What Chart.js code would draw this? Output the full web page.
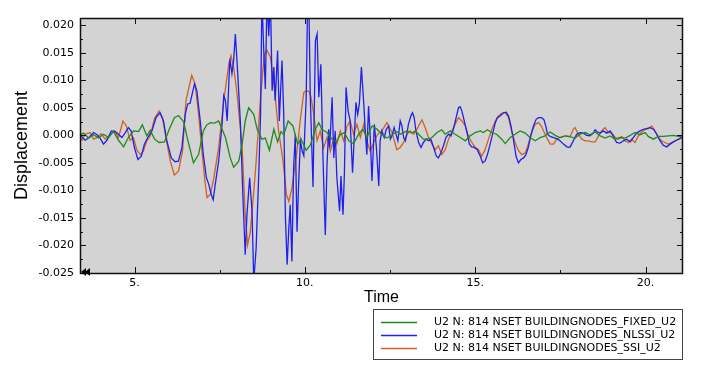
<!DOCTYPE html>
<html>
<head>
<meta charset="utf-8">
<script src="https://cdn.jsdelivr.net/npm/chart.js@4/dist/chart.umd.min.js"></script>
<style>
html, body { margin: 0; padding: 0; background: #fff; }
</style>
</head>
<body>
<canvas id="c" width="708" height="371"></canvas>
<script>
// Valores (desplazamiento en unidades de 1e-3)
const fixedTime = [3.36,3.50,3.65,3.80,3.94,4.09,4.24,4.38,4.53,4.68,4.82,4.97,5.12,5.23,5.36,5.46,5.59,5.72,5.88,6.02,6.17,6.29,6.44,6.58,6.73,6.88,7.02,7.12,7.23,7.35,7.47,7.67,7.81,7.91,8.06,8.16,8.25,8.35,8.50,8.60,8.74,8.84,8.96,9.09,9.20,9.30,9.38,9.51,9.65,9.79,9.89,10.04,10.16,10.31,10.41,10.50,10.65,10.80,10.92,11.04,11.16,11.29,11.43,11.58,11.70,11.82,11.97,12.12,12.26,12.41,12.56,12.70,12.80,13.00,13.14,13.24,13.34,13.48,13.58,13.73,13.88,14.02,14.12,14.27,14.41,14.56,14.71,14.85,15.00,15.15,15.24,15.36,15.49,15.63,15.78,15.88,16.03,16.17,16.32,16.47,16.61,16.76,16.91,17.05,17.20,17.35,17.49,17.64,17.79,17.93,18.08,18.23,18.37,18.52,18.67,18.81,18.96,19.11,19.25,19.40,19.55,19.69,19.84,19.99,20.08,20.23,20.38,20.52,20.67,20.82,20.96,21.11];
const fixedU2 = [-0.1,0.4,-0.5,0.1,-0.5,0.2,-0.4,0.7,-0.9,-2.1,-0.4,0.8,0.7,1.9,-0.1,0.9,-0.7,-1.3,-1.2,1.1,3.2,3.6,2.5,-1.3,-5.0,-3.5,0.8,1.9,2.3,2.2,2.6,-0.4,-4.1,-5.8,-4.7,-1.6,2.6,5.0,3.8,1.1,-0.7,-0.5,-2.7,1.1,-1.2,0.7,0.1,2.6,1.7,-1.6,-0.7,-2.7,-1.8,1.1,2.3,1.1,0.5,-0.7,-1.2,0.1,0.5,-1.0,-1.5,0.2,1.1,-0.4,1.7,1.1,0.2,-0.5,0.1,0.7,0.2,0.8,0.4,0.8,0.2,-0.7,-0.7,-0.4,0.5,1.0,0.2,0.8,0.2,-0.4,-1.0,-0.1,0.5,0.8,0.5,1.0,0.5,0.2,-0.7,-1.5,-0.4,0.2,0.8,0.4,-0.4,-1.0,-0.4,-0.1,0.6,0.0,-0.4,-0.1,-0.3,-0.5,0.2,0.5,0.1,0.6,-0.1,-0.5,-0.1,-0.7,-0.4,-0.5,0.0,0.5,0.1,0.5,-0.2,-0.7,-0.2,-0.2,-0.1,0.0,-0.2,-0.3];

const nlssiTime = [3.36,3.46,3.55,3.65,3.80,3.90,3.99,4.09,4.19,4.32,4.43,4.53,4.63,4.73,4.82,4.90,5.00,5.10,5.20,5.29,5.39,5.51,5.63,5.75,5.85,5.95,6.08,6.19,6.29,6.39,6.49,6.56,6.63,6.76,6.83,6.93,7.02,7.11,7.18,7.25,7.31,7.37,7.47,7.57,7.62,7.67,7.72,7.80,7.86,7.91,7.96,8.03,8.11,8.18,8.25,8.30,8.38,8.45,8.50,8.57,8.65,8.70,8.74,8.79,8.84,8.89,8.94,8.99,9.04,9.09,9.13,9.20,9.25,9.28,9.33,9.38,9.43,9.48,9.53,9.57,9.62,9.67,9.72,9.77,9.82,9.87,9.92,9.97,10.04,10.08,10.12,10.16,10.24,10.31,10.36,10.41,10.47,10.53,10.60,10.65,10.70,10.73,10.80,10.85,10.89,10.94,11.02,11.06,11.12,11.16,11.21,11.27,11.33,11.40,11.45,11.50,11.55,11.60,11.66,11.73,11.77,11.82,11.87,11.92,11.97,12.04,12.10,12.17,12.21,12.26,12.33,12.39,12.46,12.51,12.56,12.62,12.73,12.80,12.85,12.90,12.95,13.00,13.04,13.11,13.16,13.21,13.26,13.34,13.41,13.48,13.56,13.63,13.70,13.78,13.86,13.92,13.99,14.07,14.14,14.22,14.29,14.36,14.44,14.51,14.56,14.61,14.68,14.76,14.83,14.90,14.97,15.05,15.15,15.22,15.29,15.36,15.44,15.52,15.59,15.65,15.73,15.83,15.91,15.98,16.05,16.12,16.20,16.27,16.34,16.42,16.49,16.56,16.63,16.71,16.79,16.86,16.95,17.02,17.08,17.12,17.20,17.30,17.39,17.49,17.59,17.69,17.74,17.79,17.88,17.98,18.08,18.18,18.27,18.37,18.47,18.52,18.59,18.67,18.76,18.86,18.96,19.06,19.15,19.25,19.35,19.45,19.55,19.64,19.74,19.84,19.94,20.03,20.13,20.23,20.33,20.43,20.52,20.62,20.72,20.82,20.91,21.01,21.13];
const nlssiU2 = [0.2,-0.3,-0.9,-0.5,0.5,0.1,-0.5,-1.6,-0.9,0.8,0.7,0.2,-0.4,0.5,1.4,0.8,-2.3,-4.4,-3.8,-1.6,-0.4,0.8,3.2,4.1,2.6,-1.0,-4.1,-4.8,-4.7,-2.3,3.8,5.7,5.8,9.3,8.1,2.6,-3.5,-7.7,-8.9,-10.7,-11.7,-8.9,-4.7,2.0,7.2,6.3,2.6,13.9,11.2,13.6,18.4,11.2,2.0,-10.8,-21.7,-14.4,-7.7,-13.8,-26.5,-20.5,-6.5,3.8,25.0,16.0,8.4,25.0,18.0,25.0,8.1,12.4,6.3,15.4,2.6,6.9,13.6,3.8,-15.0,-23.5,-16.8,-12.6,-22.9,-5.9,0.2,-17.5,-8.3,-1.0,-2.8,-3.7,6.9,24.0,23.0,6.9,-9.4,17.2,18.4,6.9,12.9,-3.5,-18.1,-5.3,1.1,-2.2,6.9,-4.1,0.8,-7.7,-13.8,-7.4,-14.4,-7.1,8.7,4.4,2.6,-6.8,-0.4,6.0,3.8,5.7,12.4,5.7,1.1,-3.5,5.3,-0.4,-8.3,2.0,-2.2,-9.2,-1.0,0.8,-0.4,1.1,1.7,-0.7,-0.1,1.4,-1.0,2.6,1.7,-0.4,-1.0,0.5,2.0,3.5,4.1,3.2,0.8,-1.3,-2.2,-1.3,-0.7,-1.0,-0.7,-2.2,-3.8,-4.1,-3.2,-1.9,-0.4,0.2,-0.1,1.1,3.2,5.0,5.2,4.4,2.6,0.5,-1.6,-2.1,-2.2,-2.5,-3.8,-5.0,-4.7,-3.5,-1.6,0.5,2.3,3.2,3.5,4.1,4.2,3.5,1.7,-0.7,-3.8,-5.0,-4.4,-4.1,-3.5,-2.2,-0.1,1.7,2.9,3.2,3.2,2.8,1.5,0.2,-0.2,-0.4,-0.6,-1.0,-1.6,-2.1,-2.2,-2.1,-1.0,0.2,0.5,0.4,0.0,-0.1,0.4,1.0,0.6,0.4,0.8,0.4,0.8,-0.2,-1.3,-1.4,-1.0,-0.7,-1.2,-0.4,0.4,0.8,1.1,1.2,1.4,1.1,0.2,-1.0,-1.8,-2.1,-1.6,-1.2,-0.9,-0.6,-0.2];

const ssiTime = [3.36,3.46,3.55,3.70,3.80,3.90,4.02,4.14,4.29,4.41,4.53,4.66,4.76,4.87,4.97,5.07,5.17,5.26,5.36,5.46,5.59,5.72,5.82,5.92,6.05,6.17,6.29,6.41,6.51,6.68,6.78,6.88,6.99,7.07,7.13,7.23,7.33,7.47,7.62,7.77,7.83,7.91,8.01,8.16,8.25,8.32,8.40,8.55,8.70,8.81,8.89,8.99,9.11,9.23,9.36,9.46,9.53,9.62,9.77,9.87,9.97,10.05,10.12,10.18,10.26,10.36,10.45,10.55,10.65,10.75,10.85,10.94,11.04,11.14,11.24,11.33,11.43,11.53,11.63,11.73,11.82,11.92,12.02,12.14,12.26,12.41,12.56,12.70,12.80,12.90,13.00,13.09,13.19,13.29,13.39,13.44,13.53,13.63,13.73,13.83,13.92,14.02,14.12,14.22,14.32,14.41,14.51,14.61,14.71,14.80,14.90,15.00,15.10,15.19,15.29,15.39,15.49,15.59,15.68,15.78,15.88,15.98,16.07,16.17,16.27,16.37,16.47,16.56,16.66,16.76,16.86,16.95,17.05,17.20,17.30,17.39,17.49,17.64,17.79,17.88,17.93,18.03,18.13,18.23,18.32,18.42,18.52,18.62,18.71,18.81,18.91,19.01,19.11,19.20,19.30,19.40,19.50,19.59,19.69,19.79,19.89,19.99,20.08,20.18,20.28,20.38,20.47,20.57,20.67,20.77,20.87,20.96,21.06,21.16];
const ssiU2 = [-0.1,-0.9,0.2,0.5,-0.7,-0.4,0.3,-0.7,0.1,0.8,-0.4,2.6,1.7,-0.9,-0.4,-2.7,-3.5,-2.9,-1.0,-0.1,3.1,4.4,3.2,-0.4,-4.7,-7.2,-6.5,-2.9,6.3,10.9,9.3,3.8,-3.5,-8.5,-11.3,-10.7,-7.7,-2.2,6.3,13.0,14.5,12.4,7.5,-2.2,-14.4,-19.9,-17.5,-6.5,6.9,14.7,15.4,14.2,8.1,0.8,-4.7,-10.8,-12.0,-9.6,-2.8,3.0,7.8,8.1,8.0,7.0,3.8,-1.0,0.8,-2.3,-0.4,-2.9,-0.4,-1.6,0.8,-1.0,1.7,2.6,0.2,2.0,-0.4,2.0,-1.0,-2.9,-1.3,0.2,0.8,2.3,0.5,-2.6,-2.2,-1.3,0.2,0.8,0.2,1.1,2.3,2.8,1.4,-0.4,-1.6,-2.6,-1.9,-3.5,-2.6,-0.7,0.8,2.0,3.2,2.6,1.7,-0.1,-1.3,-2.2,-2.6,-3.8,-2.6,-0.7,1.1,2.6,3.5,4.0,4.1,3.2,0.8,-1.3,-2.8,-3.5,-3.2,-1.6,0.5,2.0,2.3,1.6,0.2,-1.6,-1.6,-0.7,-0.4,-0.1,-0.2,1.1,1.4,0.2,-0.7,-1.0,-1.0,-1.2,-1.2,-0.1,0.8,1.4,0.5,0.4,-0.4,-0.7,-0.2,-1.0,-1.3,-0.7,-1.3,-0.1,0.6,1.1,1.2,1.7,0.8,-0.4,-1.0,-1.3,-1.6,-1.3,-1.0,-0.7,-0.4,-0.4];

const seriesLabels = [
    'U2 N: 814 NSET BUILDINGNODES_FIXED_U2',
    'U2 N: 814 NSET BUILDINGNODES_NLSSI_U2',
    'U2 N: 814 NSET BUILDINGNODES_SSI_U2'
];
const seriesColors = ['#1f8a1f', '#2020ec', '#d0621e'];

const xTickValues = [5, 10, 15, 20];
const xTickLabels = ['5.', '10.', '15.', '20.'];
const xMinorTicks = [7.5, 12.5, 17.5];
const yTickValues = [-0.025, -0.020, -0.015, -0.010, -0.005, 0, 0.005, 0.010, 0.015, 0.020];
const yTickLabels = ['-0.025', '-0.020', '-0.015', '-0.010', '-0.005', '0.000', '0.005', '0.010', '0.015', '0.020'];
const yMinorTicks = [-0.0225, -0.0175, -0.0125, -0.0075, -0.0025, 0.0025, 0.0075, 0.0125, 0.0175];

function toPoints(times, vals) {
    return times.map((t, i) => ({ x: t, y: vals[i] * 1e-3 }));
}

// Fondo gris del área de trazado
const plotBackground = {
    id: 'plotBackground',
    beforeDatasetsDraw(chart) {
        const { ctx, chartArea: a } = chart;
        ctx.save();
        ctx.fillStyle = '#d3d3d3';
        ctx.fillRect(a.left, a.top, a.right - a.left, a.bottom - a.top);
        ctx.restore();
    }
};

// Marco y marcas hacia dentro en los cuatro lados
const frameTicks = {
    id: 'frameTicks',
    afterDatasetsDraw(chart) {
        const { ctx, chartArea: a, scales: { x, y } } = chart;
        ctx.save();
        ctx.strokeStyle = '#111';
        ctx.lineWidth = 1;
        ctx.beginPath();
        const mark = (vals, len) => {
            vals.forEach(v => {
                const px = Math.round(x.getPixelForValue(v)) + 0.5;
                ctx.moveTo(px, a.bottom); ctx.lineTo(px, a.bottom - len);
                ctx.moveTo(px, a.top); ctx.lineTo(px, a.top + len);
            });
        };
        const markY = (vals, len) => {
            vals.forEach(v => {
                const py = Math.round(y.getPixelForValue(v)) + 0.5;
                ctx.moveTo(a.left, py); ctx.lineTo(a.left + len, py);
                ctx.moveTo(a.right, py); ctx.lineTo(a.right - len, py);
            });
        };
        mark(xTickValues, 6);
        mark(xMinorTicks, 3);
        markY(yTickValues, 6);
        markY(yMinorTicks, 3);
        ctx.stroke();
        ctx.lineWidth = 1.5;
        ctx.strokeRect(a.left + 0.5, a.top + 0.5, a.right - a.left - 1, a.bottom - a.top);
        // flechas dobles en la esquina inferior izquierda
        ctx.fillStyle = '#000';
        [a.left + 1, a.left + 5].forEach(px => {
            ctx.beginPath();
            ctx.moveTo(px, a.bottom - 1);
            ctx.lineTo(px + 5, a.bottom - 5);
            ctx.lineTo(px + 5, a.bottom + 3);
            ctx.closePath();
            ctx.fill();
        });
        ctx.restore();
    }
};

// Leyenda en recuadro, abajo a la derecha
const boxLegend = {
    id: 'boxLegend',
    afterDraw(chart) {
        const { ctx, chartArea: a } = chart;
        const right = a.right, left = a.right - 310;
        const top = chart.height - 62, bottom = chart.height - 11;
        ctx.save();
        ctx.fillStyle = '#fff';
        ctx.fillRect(left, top, right - left, bottom - top);
        ctx.strokeStyle = '#444';
        ctx.lineWidth = 1;
        ctx.strokeRect(left + 0.5, top + 0.5, right - left - 1, bottom - top - 1);
        ctx.font = '11px "DejaVu Sans"';
        ctx.textBaseline = 'middle';
        chart.data.datasets.forEach((ds, i) => {
            const yy = top + 13 + i * 13;
            ctx.strokeStyle = ds.borderColor;
            ctx.lineWidth = 1.5;
            ctx.beginPath();
            ctx.moveTo(left + 8, yy + 0.5);
            ctx.lineTo(left + 44, yy + 0.5);
            ctx.stroke();
            ctx.fillStyle = '#000';
            ctx.fillText(ds.label, left + 61, yy);
        });
        ctx.restore();
    }
};

const tickFont = { family: 'DejaVu Sans', size: 11 };

new Chart(document.getElementById('c'), {
    type: 'line',
    data: {
        datasets: [
            { label: seriesLabels[0], data: toPoints(fixedTime, fixedU2), borderColor: seriesColors[0] },
            { label: seriesLabels[1], data: toPoints(nlssiTime, nlssiU2), borderColor: seriesColors[1] },
            { label: seriesLabels[2], data: toPoints(ssiTime, ssiU2), borderColor: seriesColors[2] }
        ].map(ds => Object.assign(ds, { borderWidth: 1.3, pointRadius: 0, tension: 0, fill: false }))
    },
    options: {
        responsive: false,
        animation: false,
        events: [],
        layout: { padding: { top: 18, right: 25, bottom: 61, left: 0 } },
        plugins: { legend: { display: false }, tooltip: { enabled: false } },
        scales: {
            x: {
                type: 'linear',
                min: 3.4,
                max: 21.1,
                afterFit: s => { s.height = 37; },
                afterBuildTicks: s => { s.ticks = xTickValues.map(v => ({ value: v })); },
                ticks: {
                    callback: (v, i) => xTickLabels[i],
                    font: tickFont, color: '#000', padding: 4, maxRotation: 0, autoSkip: false
                },
                grid: { display: false, drawTicks: false },
                border: { display: false },
                title: {
                    display: true, text: 'Time', color: '#000',
                    font: { family: 'Liberation Sans', size: 16 },
                    padding: { top: 0, bottom: 3 }
                }
            },
            y: {
                type: 'linear',
                min: -0.025,
                max: 0.0213,
                afterFit: s => { s.width = 80; },
                afterBuildTicks: s => { s.ticks = yTickValues.map(v => ({ value: v })); },
                ticks: {
                    callback: (v, i) => yTickLabels[i],
                    font: tickFont, color: '#000', padding: 6, autoSkip: false
                },
                grid: { display: false, drawTicks: false },
                border: { display: false },
                title: {
                    display: true, text: 'Displacement', color: '#000',
                    font: { family: 'Liberation Sans', size: 18 },
                    padding: { top: 11, bottom: 0 }
                }
            }
        }
    },
    plugins: [plotBackground, frameTicks, boxLegend]
});
</script>
</body>
</html>
